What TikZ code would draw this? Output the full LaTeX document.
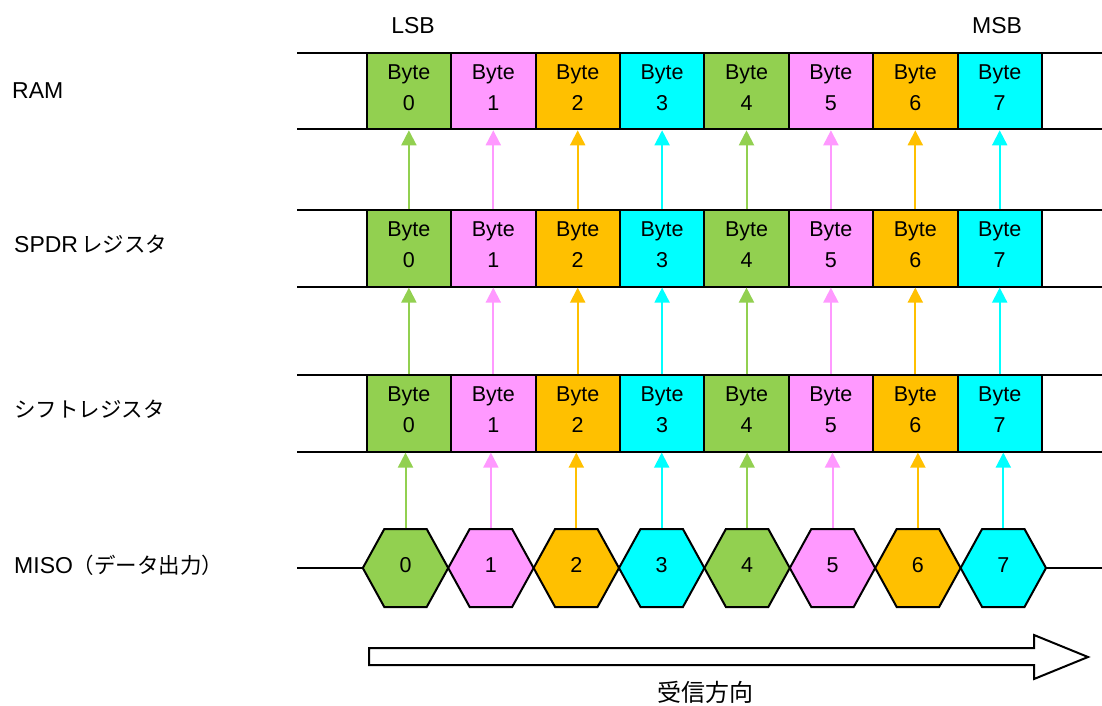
\documentclass[tikz,border=0pt]{standalone}
\usepackage{fontspec}
\setmainfont{Liberation Sans}
\newfontfamily\jpfont{Noto Sans CJK JP}
\usetikzlibrary{arrows.meta}
\definecolor{cA}{HTML}{92D050}
\definecolor{cB}{HTML}{FF99FF}
\definecolor{cC}{HTML}{FFC000}
\definecolor{cD}{HTML}{00FFFF}
\tikzset{
  bytebox/.style={draw=black, line width=2pt, minimum width=84.4pt, minimum height=76.6pt, inner sep=0pt},
  bt/.style={inner sep=0pt, anchor=base, font=\fontsize{21.5}{25}\selectfont},
  lab/.style={inner sep=0pt, anchor=base west, font=\fontsize{23}{28}\selectfont},
  rail/.style={draw=black, line width=2pt},
  conn/.style={line width=2pt, -{Triangle[length=15pt,width=15pt]}},
  hexline/.style={draw=black, line width=2pt, line join=miter},
}
\begin{document}
\begin{tikzpicture}[x=1pt,y=-1pt]
\useasboundingbox (0,0) rectangle (1102,706);

% top labels
\node[bt, font=\fontsize{23}{28}\selectfont] (lsb) at (413,34) {LSB};
\node[bt, font=\fontsize{23}{28}\selectfont] (msb) at (997,34) {MSB};

% row labels
\node[lab] (lram) at (12,99) {RAM};
\node[lab] (lspdr) at (14,252) {SPDR\hspace{3pt}{\jpfont\fontsize{21.5}{26}\selectfont レジスタ}};
\node[lab] (lshift) at (14,417) {{\jpfont\fontsize{21.5}{26}\selectfont シフトレジスタ}};
\node[lab] (lmiso) at (14,573) {MISO{\jpfont\fontsize{21.5}{26}\selectfont （データ出力）}};

% register rows
\foreach \rw/\ty in {r/52.7, s/210, f/375} {
  \draw[rail] (297,\ty) -- (1102,\ty);
  \draw[rail] (297,\ty+76.6) -- (1102,\ty+76.6);
  \foreach \i/\c in {0/cA,1/cB,2/cC,3/cD,4/cA,5/cB,6/cC,7/cD} {
    \pgfmathsetmacro{\cx}{408.9+84.4*\i}
    \node[bytebox, fill=\c] (\rw\i) at (\cx,\ty+38.3) {};
    \node[bt] (\rw b\i) at (\cx,\ty+26.5) {Byte};
    \node[bt] (\rw n\i) at (\cx,\ty+57.5) {\i};
  }
}

% MISO line and hexagons
\draw[rail] (297,568) -- (1102,568);
\foreach \i/\c in {0/cA,1/cB,2/cC,3/cD,4/cA,5/cB,6/cC,7/cD} {
  \pgfmathsetmacro{\cx}{405.5+85.4*\i}
  \draw[hexline, fill=\c] (\cx-42.7,568) -- (\cx-21.2,529) -- (\cx+21.2,529)
    -- (\cx+42.7,568) -- (\cx+21.2,607) -- (\cx-21.2,607) -- cycle;
  \coordinate (mt\i) at (\cx,528);
  \node[bt] (m\i) at (\cx,572) {\i};
}

% connectors
\foreach \i/\c in {0/cA,1/cB,2/cC,3/cD,4/cA,5/cB,6/cC,7/cD} {
  \draw[conn, draw=\c, fill=\c] (s\i.north) -- (r\i.south);
  \draw[conn, draw=\c, fill=\c] (f\i.north) -- (s\i.south);
  \draw[conn, draw=\c, fill=\c] (mt\i) -- (mt\i |- f\i.south);
}

% direction arrow
\draw[line width=2pt, fill=white, line join=miter] (369,648) -- (1034,648) -- (1034,635)
  -- (1088,657) -- (1034,679) -- (1034,665) -- (369,665) -- cycle;
\node[inner sep=0pt, anchor=base, font=\jpfont\fontsize{24}{28}\selectfont] (dir) at (705,701) {受信方向};
\end{tikzpicture}
\end{document}
